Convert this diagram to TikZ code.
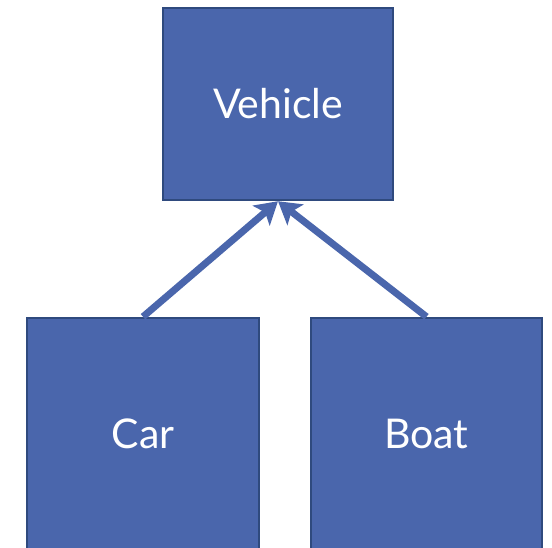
\documentclass[tikz,border=0pt]{standalone}
\usepackage{fontspec}
\setmainfont{Lato}
\usepackage{xcolor}
\usepackage{tikz}
\usetikzlibrary{arrows.meta,positioning}
\definecolor{boxfill}{HTML}{4A66AC}
\definecolor{boxline}{HTML}{2F4A7E}

\begin{document}
\begin{tikzpicture}[
    x=1pt, y=-1pt,
    classbox/.style={rectangle, draw=boxline, fill=boxfill, text=white,
                     line width=2.5pt, inner sep=0pt, align=center,
                     font=\fontsize{41}{48}\selectfont},
    inherit/.style={-{Stealth[length=22pt,width=26pt,inset=5pt]},
                    line width=7pt, color=boxfill},
]
\useasboundingbox (0,0) rectangle (552,548);
\clip (0,0) rectangle (552,548);

\node[classbox, minimum width=230pt, minimum height=192pt] (vehicle) at (278,104) {Vehicle};
\node[classbox, minimum width=232pt, minimum height=232pt] (car) at (143,434) {Car};
\node[classbox, minimum width=231pt, minimum height=232pt] (boat) at (426.5,434) {Boat};

\draw[inherit] (car.north) -- (vehicle.south);
\draw[inherit] (boat.north) -- (vehicle.south);

\end{tikzpicture}
\end{document}
